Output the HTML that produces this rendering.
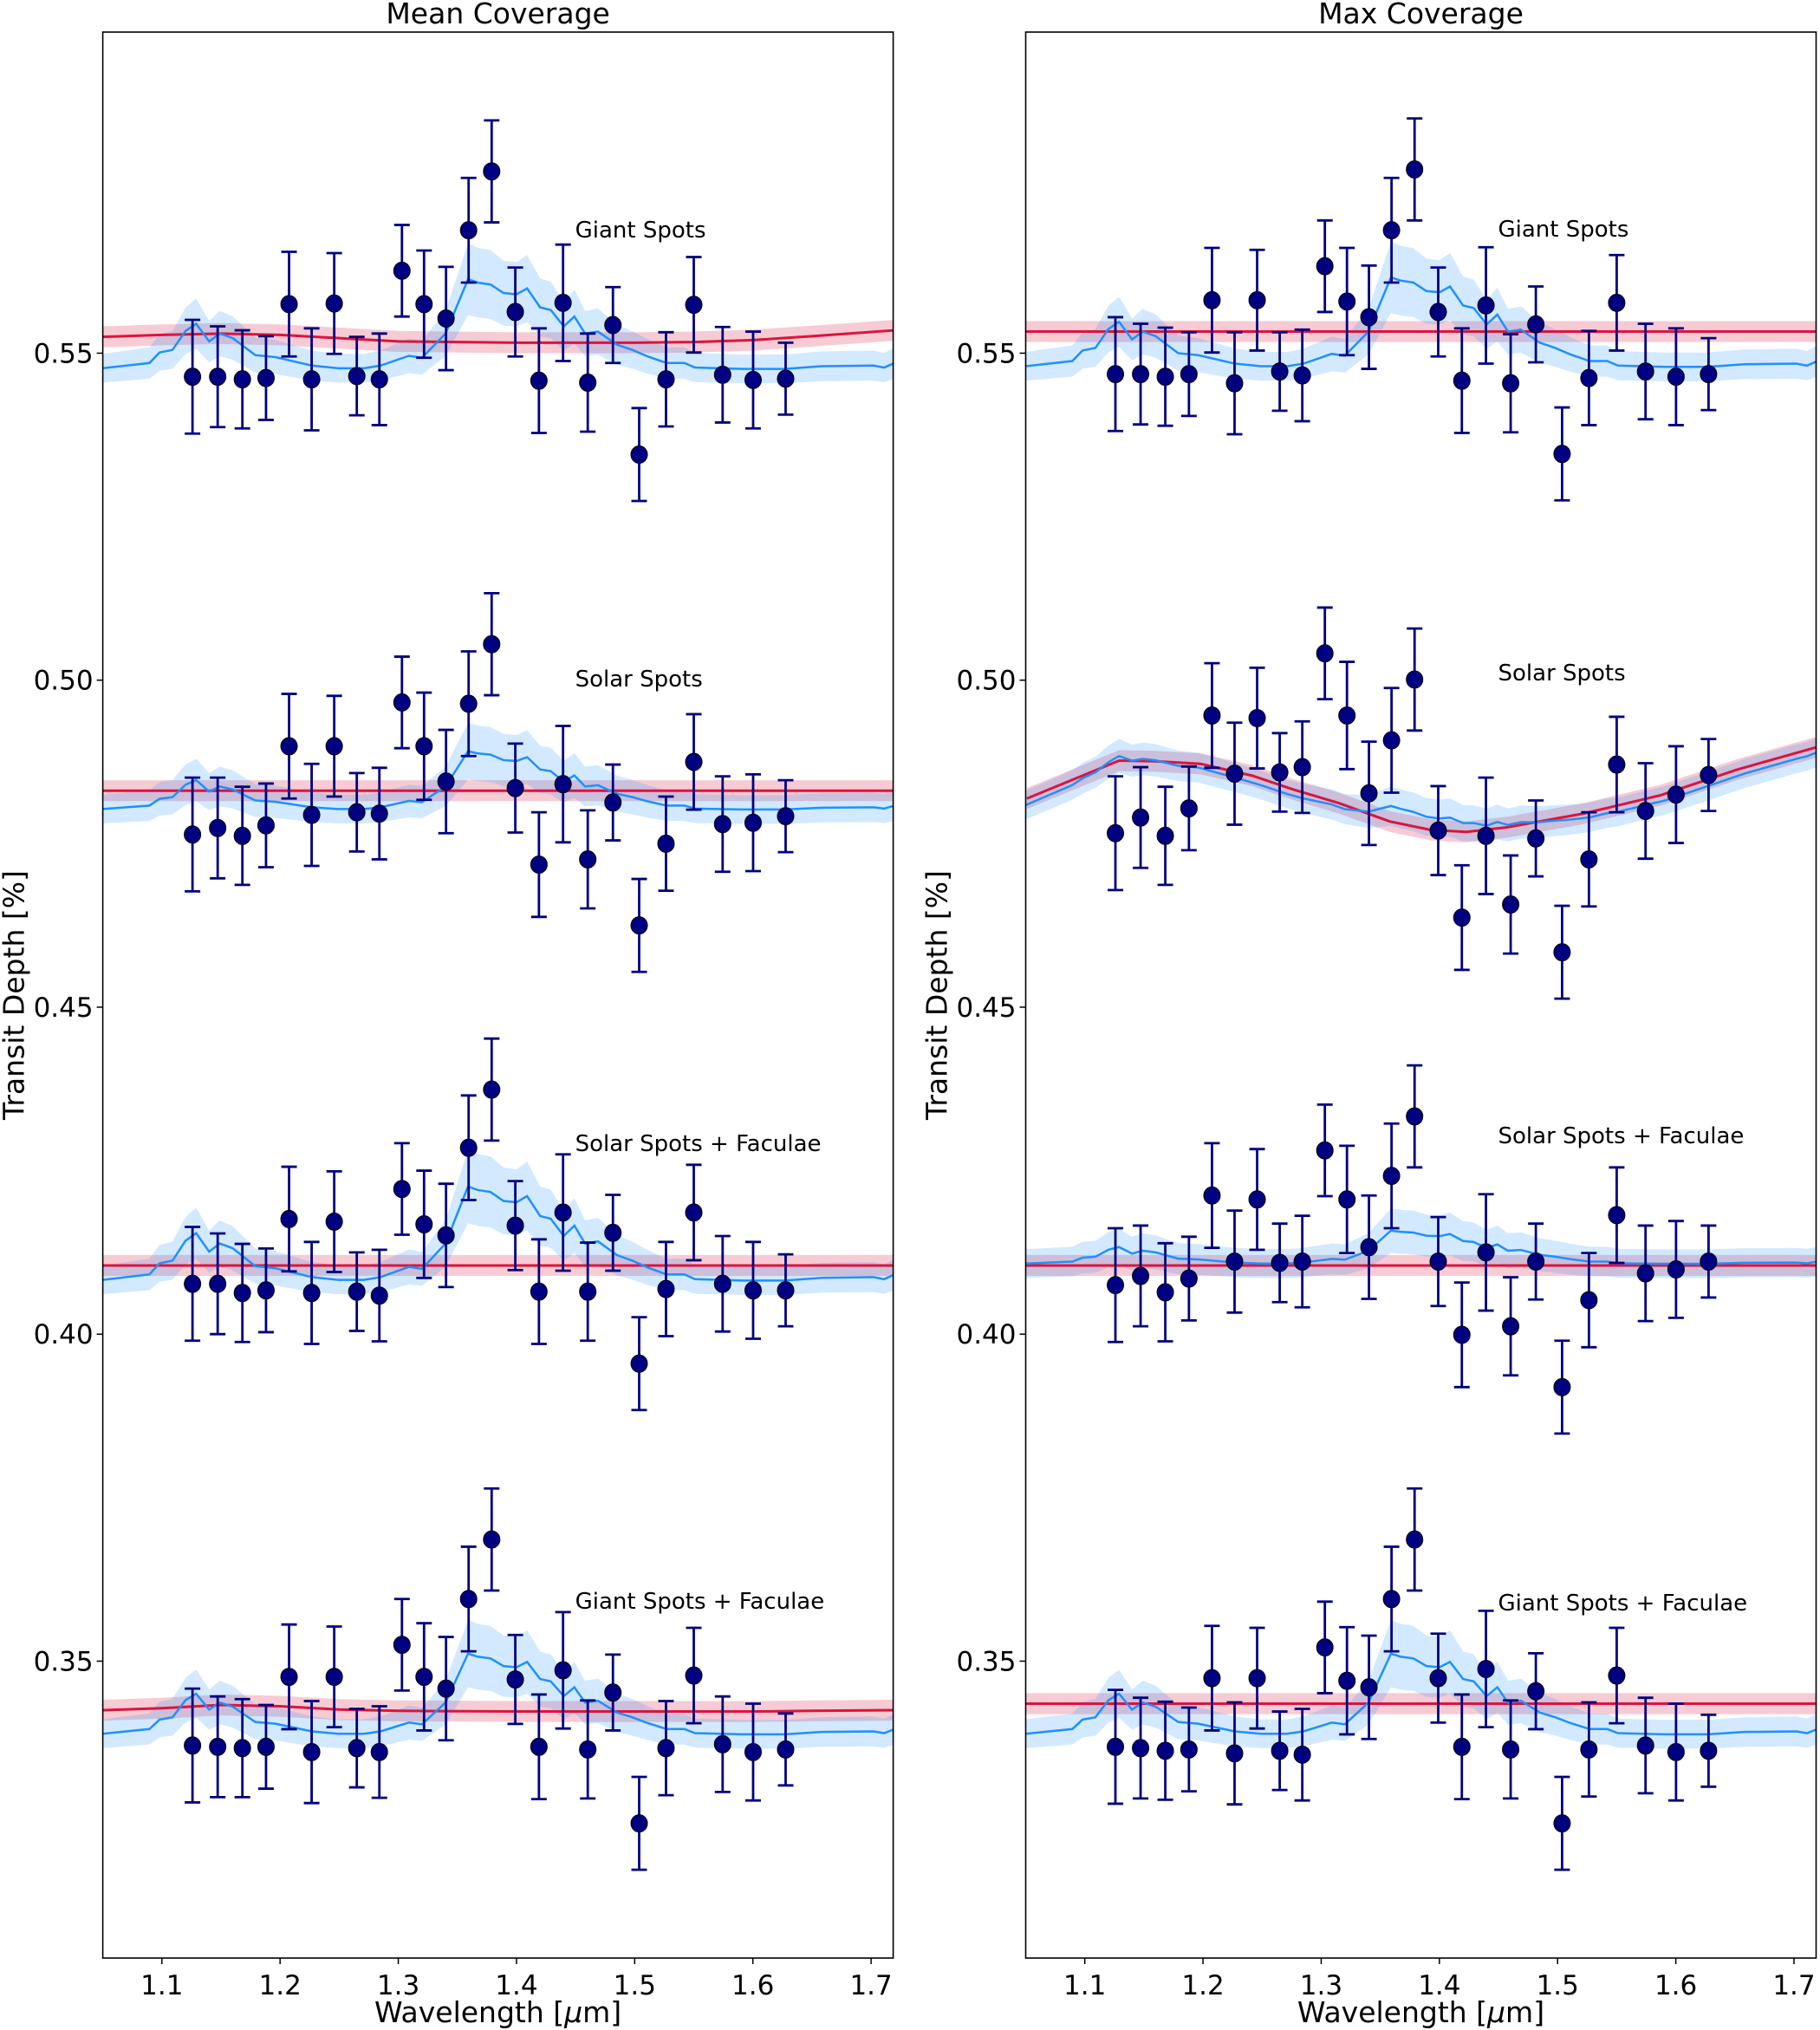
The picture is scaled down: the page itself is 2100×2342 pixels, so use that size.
<!DOCTYPE html>
<html><head><meta charset="utf-8">
<style>
html,body{margin:0;padding:0;background:#fff;}
svg{display:block;font-family:"DejaVu Sans","Liberation Sans",sans-serif;}
</style></head>
<body>
<svg id="fig" width="2100" height="2342" viewBox="0 0 2100 2342" xmlns="http://www.w3.org/2000/svg"></svg>
<script>
// ---------- data ----------
const wavelengths = [1.1259,1.1472,1.1681,1.1881,1.2076,1.2267,1.2458,1.2649,1.2840,1.3031,1.3218,1.3404,1.3595,1.3790,1.3990,1.4190,1.4394,1.4603,1.4816,1.5038,1.5265,1.5500,1.5744,1.6002,1.6277];
const errors = [0.0087,0.0077,0.0075,0.0064,0.0080,0.0078,0.0077,0.0060,0.0070,0.0070,0.0082,0.0079,0.0080,0.0078,0.0068,0.0080,0.0089,0.0075,0.0058,0.0071,0.0072,0.0073,0.0073,0.0074,0.0055];

const meanGiant = [0.5464,0.5464,0.5460,0.5462,0.5575,0.5460,0.5576,0.5465,0.5460,0.5626,0.5575,0.5553,0.5688,0.5778,0.5563,0.5458,0.5577,0.5455,0.5543,0.5345,0.5460,0.5574,0.5467,0.5459,0.5461];
const meanSolar = [0.4764,0.4774,0.4762,0.4778,0.4899,0.4794,0.4899,0.4798,0.4796,0.4966,0.4899,0.4845,0.4964,0.5055,0.4835,0.4718,0.4841,0.4726,0.4813,0.4625,0.4750,0.4875,0.4780,0.4782,0.4792];
const meanSolarFac = [0.4077,0.4077,0.4063,0.4067,0.4176,0.4063,0.4172,0.4065,0.4059,0.4222,0.4168,0.4151,0.4285,0.4374,0.4166,0.4065,0.4186,0.4065,0.4155,0.3955,0.4069,0.4186,0.4077,0.4067,0.4067];
const meanGiantFac = [0.3371,0.3369,0.3367,0.3369,0.3476,0.3361,0.3476,0.3367,0.3361,0.3525,0.3476,0.3458,0.3595,0.3686,0.3472,0.3369,0.3486,0.3365,0.3452,0.3252,0.3367,0.3478,0.3373,0.3361,0.3365];

const maxGiant = [0.5468,0.5468,0.5464,0.5468,0.5581,0.5454,0.5581,0.5472,0.5466,0.5633,0.5579,0.5555,0.5688,0.5781,0.5563,0.5458,0.5573,0.5454,0.5544,0.5346,0.5462,0.5577,0.5472,0.5464,0.5468];
const maxSolar = [0.4766,0.4790,0.4762,0.4804,0.4946,0.4857,0.4942,0.4859,0.4867,0.5041,0.4946,0.4827,0.4908,0.5001,0.4770,0.4637,0.4762,0.4657,0.4758,0.4584,0.4726,0.4871,0.4800,0.4825,0.4855];
const maxSolarFac = [0.4075,0.4089,0.4064,0.4085,0.4212,0.4111,0.4206,0.4109,0.4111,0.4281,0.4206,0.4133,0.4242,0.4333,0.4111,0.3999,0.4125,0.4012,0.4111,0.3919,0.4052,0.4182,0.4093,0.4099,0.4111];
const maxGiantFac = [0.3369,0.3367,0.3363,0.3365,0.3474,0.3359,0.3474,0.3363,0.3357,0.3521,0.3470,0.3460,0.3595,0.3686,0.3474,0.3369,0.3488,0.3365,0.3454,0.3252,0.3365,0.3478,0.3371,0.3361,0.3363];

const shapeWl = [1.05,1.0895,1.098,1.109,1.12,1.129,1.14,1.149,1.16,1.179,1.196,1.227,1.249,1.271,1.285,1.309,1.32,1.34,1.359,1.367,1.378,1.389,1.4,1.409,1.42,1.429,1.44,1.449,1.458,1.469,1.485,1.498,1.511,1.527,1.542,1.551,1.591,1.627,1.658,1.702,1.711,1.72];
const shapeVal = [0,0.0008,0.0024,0.0028,0.0057,0.0068,0.0041,0.0053,0.0046,0.002,0.0017,0.0004,0,0,0.0004,0.0019,0.0016,0.0053,0.0136,0.0131,0.0128,0.0115,0.0113,0.0122,0.0093,0.0089,0.0064,0.0079,0.0053,0.0056,0.0036,0.0028,0.0018,0.0008,0.0008,0.0001,-0.0001,-0.0001,0.0003,0.0004,0.0001,0.0008];

const redGiantWl = [1.05,1.10,1.15,1.20,1.25,1.30,1.40,1.50,1.55,1.60,1.65,1.72];
const redGiantVal = [0.5525,0.5528,0.5530,0.5528,0.5523,0.5518,0.5516,0.5516,0.5517,0.5520,0.5526,0.5535];
const redGiantFacVal = [0.3425,0.3428,0.3433,0.3431,0.3426,0.3424,0.3423,0.3423,0.3423,0.3423,0.3424,0.3425];
const redSolarWl = [1.051,1.129,1.1596,1.198,1.2416,1.276,1.315,1.358,1.3927,1.423,1.457,1.522,1.587,1.6515,1.72];
const redSolarVal = [0.4819,0.4877,0.4876,0.4872,0.4854,0.4833,0.4812,0.4784,0.4771,0.4768,0.4775,0.4796,0.4824,0.4863,0.4898];

const yTicks = [0.35,0.40,0.45,0.50,0.55];
const yTickLabels = ["0.35","0.40","0.45","0.50","0.55"];
const xTicks = [1.1,1.2,1.3,1.4,1.5,1.6,1.7];
const xTickLabels = ["1.1","1.2","1.3","1.4","1.5","1.6","1.7"];

// ---------- layout ----------
const NS = "http://www.w3.org/2000/svg";
const svg = document.getElementById('fig');
const XMIN = 1.05, XMAX = 1.7187, YMIN = 0.3046, YMAX = 0.5991;
const TOP = 37, BOT = 2259, W = 912;

function mk(tag, attrs, parent){
  const e = document.createElementNS(NS, tag);
  for (const k in attrs) e.setAttribute(k, attrs[k]);
  (parent||svg).appendChild(e);
  return e;
}

function makePanel(left, title, groups){
  const g = mk('g', {});
  
  
  const sx = v => left + (v - XMIN) / (XMAX - XMIN) * W;
  const sy = v => BOT - (v - YMIN) / (YMAX - YMIN) * (BOT - TOP);
  const clipId = 'clip' + Math.round(left);
  const defs = mk('defs', {}, g);
  const cp = mk('clipPath', {id: clipId}, defs);
  mk('rect', {x:left, y:TOP, width:W, height:BOT-TOP}, cp);
  const plot = mk('g', {'clip-path':'url(#'+clipId+')'}, g);

  groups.forEach(gr => {
    const sg = mk('g', {}, plot);
    
    
    const rTop = [], rBot = [], rLine = [];
    gr.redWl.forEach((w,i) => {
      const v = gr.redVal[i];
      rLine.push(sx(w)+','+sy(v));
      rTop.push(sx(w)+','+sy(v+0.0016));
      rBot.unshift(sx(w)+','+sy(v-0.0016));
    });
    const rb = mk('polygon', {points: rTop.concat(rBot).join(' '), fill:'#dc143c', 'fill-opacity':0.22}, sg);
    
    
    const bTop = [], bBot = [], bLine = [];
    shapeWl.forEach((w,i) => {
      const s = gr.blueScale * shapeVal[i];
      const v = gr.blueBase(w) + s;
      const hw = 0.0022 + 0.24 * Math.max(0, s);
      bLine.push(sx(w)+','+sy(v));
      bTop.push(sx(w)+','+sy(v+hw));
      bBot.unshift(sx(w)+','+sy(v-hw));
    });
    const bb = mk('polygon', {points: bTop.concat(bBot).join(' '), fill:'#1e90ff', 'fill-opacity':0.2}, sg);
    
    
    const rl = mk('polyline', {points: rLine.join(' '), fill:'none', stroke:'#dc143c', 'stroke-width':3}, sg);
    
    
    const bl = mk('polyline', {points: bLine.join(' '), fill:'none', stroke:'#1e90ff', 'stroke-width':2.5}, sg);
    
    
    gr.data.forEach((v,i) => {
      const x = sx(wavelengths[i]), y = sy(v);
      const y1 = sy(v + errors[i]), y2 = sy(v - errors[i]);
      const pg = mk('g', {}, sg);
      
      
      mk('line', {x1:x, y1:y1, x2:x, y2:y2, stroke:'#000080', 'stroke-width':2.8}, pg);
      mk('line', {x1:x-9, y1:y1, x2:x+9, y2:y1, stroke:'#000080', 'stroke-width':2.8}, pg);
      mk('line', {x1:x-9, y1:y2, x2:x+9, y2:y2, stroke:'#000080', 'stroke-width':2.8}, pg);
      mk('ellipse', {cx:x, cy:y, rx:9.5, ry:10, fill:'#000080', stroke:'#000', 'stroke-width':1}, pg);
    });
  });

  groups.forEach(gr => {
    const t = mk('text', {x: gr.labelX, y: gr.labelY, 'font-size':26, fill:'#000'}, g);
    t.textContent = gr.label;
    
    
  });

  const fr = mk('rect', {x:left, y:TOP, width:W, height:BOT-TOP, fill:'none', stroke:'#000', 'stroke-width':1.6}, g);
  
  

  const yax = mk('g', {}, g);
  
  
  yTicks.forEach((v,i) => {
    const y = sy(v);
    mk('line', {x1:left-7, y1:y, x2:left, y2:y, stroke:'#000', 'stroke-width':1.5}, yax);
    const t = mk('text', {x:left-11, y:y+11, 'font-size':31, 'text-anchor':'end'}, yax);
    t.textContent = yTickLabels[i];
  });
  const xax = mk('g', {}, g);
  
  
  xTicks.forEach((v,i) => {
    const x = sx(v);
    mk('line', {x1:x, y1:BOT, x2:x, y2:BOT+7, stroke:'#000', 'stroke-width':1.5}, xax);
    const t = mk('text', {x:x, y:BOT+42, 'font-size':31, 'text-anchor':'middle'}, xax);
    t.textContent = xTickLabels[i];
  });
  const xl = mk('text', {x:left+W/2, y:2333, 'font-size':33, 'text-anchor':'middle'}, g);
  xl.innerHTML = 'Wavelength [<tspan font-style="italic">μ</tspan>m]';
  
  
  const yl = mk('text', {x:0, y:0, 'font-size':33, 'text-anchor':'middle', transform:'translate('+(left-91)+','+((TOP+BOT)/2)+') rotate(-90)'}, g);
  yl.textContent = 'Transit Depth [%]';
  
  
  const tt = mk('text', {x:left+W/2, y:27, 'font-size':33, 'text-anchor':'middle'}, g);
  tt.textContent = title;
  
  
}

function interp(xs, ys){
  return w => {
    if (w <= xs[0]) return ys[0];
    for (let i=1;i<xs.length;i++) if (w <= xs[i]) {
      const t = (w - xs[i-1])/(xs[i]-xs[i-1]);
      return ys[i-1] + t*(ys[i]-ys[i-1]);
    }
    return ys[ys.length-1];
  };
}
const flatWl = [1.05,1.72];
const redSolarFn = interp(redSolarWl, redSolarVal);

const L1 = 118.6, L2 = 1183.5;
makePanel(L1, 'Mean Coverage', [
  {key:'mean-giant-spots', label:'Giant Spots', labelX:L1+545, labelY:274, data:meanGiant,
   redWl:redGiantWl, redVal:redGiantVal, blueBase:()=>0.5477, blueScale:1},
  {key:'mean-solar-spots', label:'Solar Spots', labelX:L1+545, labelY:792, data:meanSolar,
   redWl:flatWl, redVal:[0.4831,0.4831], blueBase:()=>0.4803, blueScale:0.65},
  {key:'mean-solar-spots-faculae', label:'Solar Spots + Faculae', labelX:L1+545, labelY:1328, data:meanSolarFac,
   redWl:flatWl, redVal:[0.4105,0.4105], blueBase:()=>0.4083, blueScale:1.05},
  {key:'mean-giant-spots-faculae', label:'Giant Spots + Faculae', labelX:L1+545, labelY:1856, data:meanGiantFac,
   redWl:redGiantWl, redVal:redGiantFacVal, blueBase:()=>0.3389, blueScale:0.9}
]);
makePanel(L2, 'Max Coverage', [
  {key:'max-giant-spots', label:'Giant Spots', labelX:L2+545, labelY:273, data:maxGiant,
   redWl:flatWl, redVal:[0.5533,0.5533], blueBase:()=>0.5480, blueScale:1},
  {key:'max-solar-spots', label:'Solar Spots', labelX:L2+545, labelY:785, data:maxSolar,
   redWl:redSolarWl, redVal:redSolarVal, blueBase:w=>redSolarFn(w)-0.0010, blueScale:0.25},
  {key:'max-solar-spots-faculae', label:'Solar Spots + Faculae', labelX:L2+545, labelY:1319, data:maxSolarFac,
   redWl:flatWl, redVal:[0.4105,0.4105], blueBase:()=>0.4108, blueScale:0.37},
  {key:'max-giant-spots-faculae', label:'Giant Spots + Faculae', labelX:L2+545, labelY:1858, data:maxGiantFac,
   redWl:flatWl, redVal:[0.3435,0.3435], blueBase:()=>0.3389, blueScale:0.9}
]);
</script>
</body></html>
